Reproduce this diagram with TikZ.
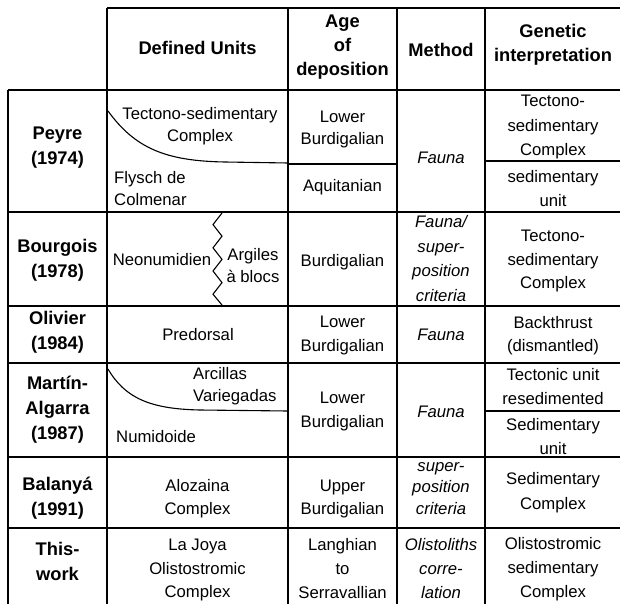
\documentclass[tikz,border=0pt]{standalone}
\usepackage{fontspec}
\setmainfont{Liberation Sans}
\begin{document}
\begin{tikzpicture}[x=1pt,y=-1pt,
  grid/.style={line width=1.6pt,black},
  topline/.style={line width=2.4pt,black},
  subline/.style={line width=1.1pt,black},
  hd/.style={inner sep=0pt,align=center,font=\fontsize{18.3}{24}\selectfont\bfseries},
  rl/.style={inner sep=0pt,align=center,font=\fontsize{18.3}{25}\selectfont\bfseries},
  body/.style={inner sep=0pt,align=center,font=\fontsize{16.7}{23.5}\selectfont},
  bodyl/.style={inner sep=0pt,align=left,font=\fontsize{16.7}{22}\selectfont},
  meth/.style={inner sep=0pt,align=center,font=\fontsize{16.7}{24}\selectfont\itshape}]
\useasboundingbox (0,0) rectangle (620,604);
% ---- grid lines
\draw[topline] (107,8) -- (620,8);
\draw[grid] (8,90) -- (620,90);
\foreach \yy in {212,306,363,457,528} {\draw[grid] (8,\yy) -- (620,\yy);}
\draw[grid] (8,90) -- (8,604);
\foreach \xx in {107,288,397,485} {\draw[grid] (\xx,8) -- (\xx,604);}
% ---- sub-divisions
\draw[subline] (108,111) .. controls (135,148) and (165,161) .. (225,162) -- (288,163);
\draw[subline] (288,164) -- (397,164);
\draw[subline] (485,161) -- (620,161);
\draw[subline] (108,369) .. controls (125,398) and (150,409) .. (200,410) -- (288,411);
\draw[subline] (485,411) -- (620,411);
\draw[subline] (222,213) -- (213,224.6) -- (222,236.2) -- (213,247.8) -- (222,259.4)
  -- (213,271) -- (222,282.6) -- (213,294.2) -- (222,305);
% ---- header
\node[hd] (h1) at (197.5,48) {Defined Units};
\node[hd] (h2) at (342.5,47.5) {Age\\of\\deposition};
\node[hd] (h3) at (441,50) {Method};
\node[hd] (h4) at (553,45) {Genetic\\interpretation};
% ---- row labels
\node[rl] (r1) at (57.5,148) {Peyre\\(1974)};
\node[rl] (r2) at (57.5,260) {Bourgois\\(1978)};
\node[rl] (r3) at (57.5,332) {Olivier\\(1984)};
\node[rl] (r4) at (57.5,410) {Martín-\\Algarra\\(1987)};
\node[rl] (r5) at (57.5,498) {Balanyá\\(1991)};
\node[rl] (r6) at (57.5,561) {This-\\work};
% ---- defined units
\node[body,font=\fontsize{16.7}{22}\selectfont] (d1) at (200,126) {Tectono-sedimentary\\Complex};
\node[bodyl,anchor=west] (d2) at (114,188.5) {Flysch de\\Colmenar};
\node[body] (d3) at (162,260) {Neonumidien};
\node[body,font=\fontsize{16.7}{22}\selectfont] (d4) at (253,266) {Argiles\\à blocs};
\node[body] (d5) at (198,335) {Predorsal};
\node[bodyl,anchor=west] (d6) at (193,386.5) {Arcillas\\Variegadas};
\node[body,anchor=west] (d7) at (116,437) {Numidoide};
\node[body] (d8) at (197.5,498.5) {Alozaina\\Complex};
\node[body] (d9) at (197.5,570) {La Joya\\Olistostromic\\Complex};
% ---- age
\node[body,font=\fontsize{16.7}{22}\selectfont] (a1) at (342.5,129) {Lower\\Burdigalian};
\node[body] (a2) at (342.5,187) {Aquitanian};
\node[body] (a3) at (342.5,262) {Burdigalian};
\node[body] (a4) at (342.5,335.5) {Lower\\Burdigalian};
\node[body] (a5) at (342.5,411.5) {Lower\\Burdigalian};
\node[body] (a6) at (342.5,499) {Upper\\Burdigalian};
\node[body,font=\fontsize{16.7}{24}\selectfont] (a7) at (342.5,569) {Langhian\\to\\Serravallian};
% ---- method
\node[meth] (m1) at (441,158) {Fauna};
\node[meth,font=\fontsize{16.7}{24.5}\selectfont\itshape] (m2) at (441,258.5) {Fauna/\\super-\\position\\criteria};
\node[meth] (m3) at (441,335) {Fauna};
\node[meth] (m4) at (441,412) {Fauna};
\node[meth,font=\fontsize{16.7}{21.5}\selectfont\itshape] (m5) at (441,488.5) {super-\\position\\criteria};
\node[meth,font=\fontsize{16.7}{24}\selectfont\itshape] (m6) at (441,569) {Olistoliths\\corre-\\lation};
% ---- genetic interpretation
\node[body,font=\fontsize{16.7}{24.5}\selectfont] (g1) at (553,127) {Tectono-\\sedimentary\\Complex};
\node[body] (g2) at (553,188.5) {sedimentary\\unit};
\node[body] (g3) at (553,261) {Tectono-\\sedimentary\\Complex};
\node[body] (g4) at (553,335.5) {Backthrust\\(dismantled)};
\node[body] (g5) at (553,386.5) {Tectonic unit\\resedimented};
\node[body] (g6) at (553,436.5) {Sedimentary\\unit};
\node[body,font=\fontsize{16.7}{25}\selectfont] (g7) at (553,492.5) {Sedimentary\\Complex};
\node[body,font=\fontsize{16.7}{24}\selectfont] (g8) at (553,569) {Olistostromic\\sedimentary\\Complex};
\end{tikzpicture}
\end{document}
